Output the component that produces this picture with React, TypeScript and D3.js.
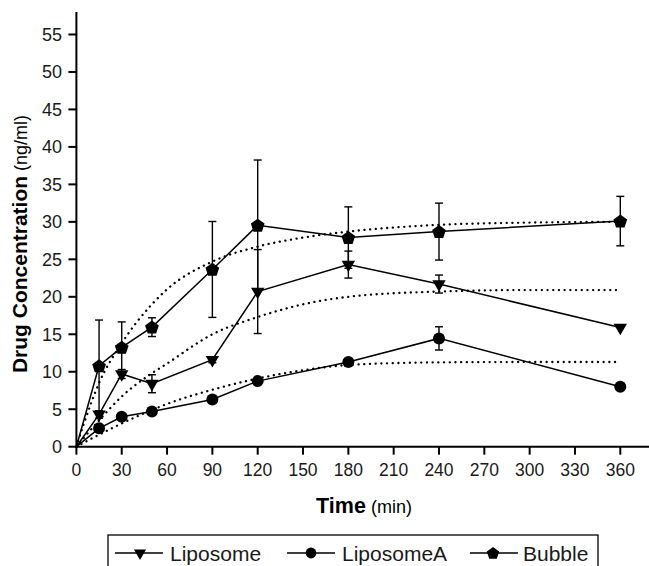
import React from "react";
import * as d3 from "d3";

const times = [0, 15, 30, 50, 90, 120, 180, 240, 360];
const liposome = [0, 4.3, 9.7, 8.4, 11.6, 20.7, 24.3, 21.7, 15.9];
const liposomeErr = [0, 0.5, 0.6, 1.2, 0.4, 5.6, 1.8, 1.2, 0];
const liposomeA = [0, 2.45, 4.0, 4.7, 6.3, 8.75, 11.3, 14.45, 8.0];
const liposomeAErr = [0, 0, 0, 0, 0, 0, 0.3, 1.55, 0];
const bubble = [0, 10.8, 13.25, 15.95, 23.65, 29.55, 27.9, 28.7, 30.1];
const bubbleErr = [0, 6.1, 3.4, 1.25, 6.4, 8.7, 4.1, 3.8, 3.3];

const fitTimes = [0, 5, 15, 30, 50, 60, 90, 120, 150, 180, 240, 300, 360];
const liposomeFit = [0, 1.2, 3.5, 6.7, 9.8, 11.1, 15.0, 17.3, 19.0, 20.0, 20.7, 20.9, 20.9];
const liposomeAFit = [0, 0.55, 1.6, 3.1, 4.9, 5.7, 7.6, 9.1, 10.2, 10.9, 11.25, 11.3, 11.3];
const bubbleFit = [0, 3.1, 8.5, 13.8, 19.0, 21.0, 24.7, 26.7, 27.9, 28.7, 29.6, 29.9, 30.0];

const xTicks = [0, 30, 60, 90, 120, 150, 180, 210, 240, 270, 300, 330, 360];
const yTicks = [0, 5, 10, 15, 20, 25, 30, 35, 40, 45, 50, 55];
const seriesNames = ["Liposome", "LiposomeA", "Bubble"];

const W = 649;
const H = 566;
const x = d3.scaleLinear().domain([0, 379]).range([76.4, 649]);
const y = d3.scaleLinear().domain([0, 58]).range([446.7, 12]);
const FONT = "'Liberation Sans', Arial, Helvetica, sans-serif";

function pentagonPath(r: number) {
  const p = d3.path();
  for (let i = 0; i < 5; i++) {
    const a = -Math.PI / 2 + (i * 2 * Math.PI) / 5;
    const px = r * Math.cos(a);
    const py = r * Math.sin(a);
    if (i === 0) p.moveTo(px, py);
    else p.lineTo(px, py);
  }
  p.closePath();
  return p.toString();
}

function Marker({ kind, cx, cy, scale = 1 }: { kind: number; cx: number; cy: number; scale?: number }) {
  if (kind === 0) {
    const d = d3.symbol(d3.symbolTriangle, 78 * scale * scale)()!;
    return <path d={d} transform={`translate(${cx},${cy}) rotate(180)`} fill="#000" />;
  }
  if (kind === 1) {
    return <circle cx={cx} cy={cy} r={6 * scale} fill="#000" />;
  }
  return <path d={pentagonPath(7.2 * scale)} transform={`translate(${cx},${cy + 0.6 * scale})`} fill="#000" />;
}

export default function App() {
  const series = [
    { vals: liposome, err: liposomeErr, fit: liposomeFit },
    { vals: liposomeA, err: liposomeAErr, fit: liposomeAFit },
    { vals: bubble, err: bubbleErr, fit: bubbleFit },
  ];
  const line = d3
    .line<number>()
    .x((_, i) => x(times[i]))
    .y((d) => y(d));
  const fitLine = d3
    .line<number>()
    .x((_, i) => x(fitTimes[i]))
    .y((d) => y(d))
    .curve(d3.curveMonotoneX);

  const legendItems = [
    { lx: 115, mx: 140, tx: 170 },
    { lx: 287, mx: 311, tx: 342 },
    { lx: 470, mx: 493, tx: 523 },
  ];

  return (
    <svg
      width={W}
      height={H}
      style={{ position: "absolute", left: 0, top: 0, background: "#fff" }}
      fontFamily={FONT}
    >
      <rect x={0} y={0} width={W} height={H} fill="#fff" />
      {/* fits */}
      {series.map((s, si) => (
        <path
          key={"fit" + si}
          d={fitLine(s.fit)!}
          fill="none"
          stroke="#000"
          strokeWidth={2.3}
          strokeDasharray="0.1,5.6"
          strokeLinecap="round"
        />
      ))}
      {/* error bars */}
      {series.map((s, si) =>
        s.vals.map((v, i) =>
          s.err[i] > 0 ? (
            <g key={`e${si}-${i}`} stroke="#000" strokeWidth={1.4}>
              <line x1={x(times[i])} x2={x(times[i])} y1={y(v - s.err[i])} y2={y(v + s.err[i])} />
              <line x1={x(times[i]) - 4} x2={x(times[i]) + 4} y1={y(v + s.err[i])} y2={y(v + s.err[i])} />
              <line x1={x(times[i]) - 4} x2={x(times[i]) + 4} y1={y(v - s.err[i])} y2={y(v - s.err[i])} />
            </g>
          ) : null
        )
      )}
      {/* data lines */}
      {series.map((s, si) => (
        <path key={"l" + si} d={line(s.vals)!} fill="none" stroke="#000" strokeWidth={1.5} />
      ))}
      {/* markers */}
      {series.map((s, si) =>
        s.vals.map((v, i) =>
          times[i] > 0 ? <Marker key={`m${si}-${i}`} kind={si} cx={x(times[i])} cy={y(v)} /> : null
        )
      )}
      {/* axes */}
      <line x1={x(0)} x2={x(0)} y1={12} y2={y(0) + 1} stroke="#000" strokeWidth={2} />
      <line x1={x(0) - 1} x2={W} y1={y(0)} y2={y(0)} stroke="#000" strokeWidth={2} />
      {yTicks.map((t) => (
        <g key={"yt" + t}>
          <line x1={x(0) - 8} x2={x(0)} y1={y(t)} y2={y(t)} stroke="#000" strokeWidth={2} />
          <text x={62} y={y(t)} dy="0.36em" textAnchor="end" fontSize={18} fill="#1a1a1a">
            {t}
          </text>
        </g>
      ))}
      {xTicks.map((t) => (
        <g key={"xt" + t}>
          <line x1={x(t)} x2={x(t)} y1={y(0)} y2={y(0) + 8} stroke="#000" strokeWidth={2} />
          <text x={x(t)} y={476} textAnchor="middle" fontSize={17.5} fill="#1a1a1a">
            {t}
          </text>
        </g>
      ))}
      {/* axis titles */}
      <text x={364} y={513} textAnchor="middle" fill="#000">
        <tspan fontWeight="bold" fontSize={21.5}>Time</tspan>
        <tspan fontSize={18}> (min)</tspan>
      </text>
      <text transform={`translate(27,244) rotate(-90)`} textAnchor="middle" fill="#000">
        <tspan fontWeight="bold" fontSize={21}>Drug Concentration</tspan>
        <tspan fontSize={18}> (ng/ml)</tspan>
      </text>
      {/* legend */}
      <rect x={108} y={535} width={490} height={45} fill="none" stroke="#000" strokeWidth={1.3} />
      {legendItems.map((it, i) => (
        <g key={"lg" + i}>
          <line x1={it.lx} x2={it.lx + 48} y1={553} y2={553} stroke="#000" strokeWidth={1.5} />
          <Marker kind={i} cx={it.mx} cy={553} scale={0.9} />
          <text x={it.tx} y={560.5} fontSize={21} fill="#1a1a1a">
            {seriesNames[i]}
          </text>
        </g>
      ))}
    </svg>
  );
}
